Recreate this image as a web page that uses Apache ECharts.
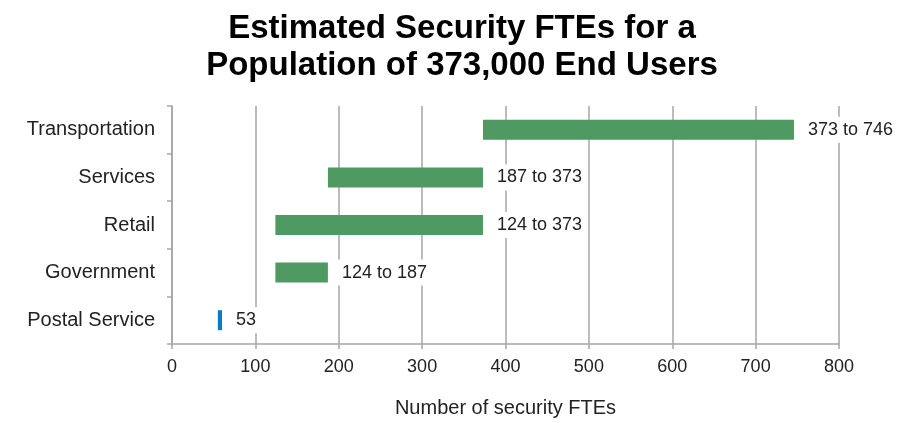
<!DOCTYPE html>
<html><head><meta charset="utf-8">
<script src="https://cdn.jsdelivr.net/npm/echarts@6/dist/echarts.min.js"></script>
<style>html,body{margin:0;padding:0;background:#fff}#c{width:897px;height:423px}</style>
</head><body><div id="c"></div>
<script>
const categories = ['Transportation', 'Services', 'Retail', 'Government', 'Postal Service'];
const lowValues = [373, 187, 124, 124, 55];
const highValues = [746, 373, 373, 187, 60];
const rangeLabels = ['373 to 746', '187 to 373', '124 to 373', '124 to 187', '53'];
const xTicks = [0, 100, 200, 300, 400, 500, 600, 700, 800];

const spans = highValues.map((h, i) => h - lowValues[i]);
const chart = echarts.init(document.getElementById('c'));
chart.setOption({
  animation: false,
  title: {
    text: 'Estimated Security FTEs for a\nPopulation of 373,000 End Users',
    left: 457, top: 5, textAlign: 'center',
    textStyle: { fontFamily: 'Liberation Sans', fontWeight: 'bold', fontSize: 33, lineHeight: 37, color: '#000' }
  },
  grid: { left: 172, right: 58, top: 106, bottom: 76 },
  xAxis: {
    type: 'value', min: xTicks[0], max: xTicks[xTicks.length - 1], interval: 100,
    name: 'Number of security FTEs', nameLocation: 'middle', nameGap: 54,
    nameTextStyle: { fontFamily: 'Liberation Sans', fontSize: 20, color: '#222' },
    axisLine: { show: true, lineStyle: { color: '#a6a6a6', width: 1.5 } },
    axisTick: { show: true, length: 5, lineStyle: { color: '#a6a6a6', width: 1.5 } },
    axisLabel: { fontFamily: 'Liberation Sans', fontSize: 18, color: '#222', margin: 14 },
    splitLine: { show: true, lineStyle: { color: '#a6a6a6', width: 1.5 } }
  },
  yAxis: {
    type: 'category', data: categories, inverse: true,
    axisLine: { show: true, lineStyle: { color: '#a6a6a6', width: 1.5 } },
    axisTick: { show: true, length: 5, lineStyle: { color: '#a6a6a6', width: 1.5 } },
    axisLabel: { fontFamily: 'Liberation Sans', fontSize: 20, color: '#222', margin: 17 },
    splitLine: { show: false }
  },
  series: [
    {
      type: 'bar', stack: 'r', data: lowValues, barWidth: 20,
      itemStyle: { color: 'transparent' }, silent: true
    },
    {
      type: 'bar', stack: 'r', data: spans, barWidth: 20,
      itemStyle: {
        color: p => categories[p.dataIndex] === 'Postal Service' ? '#0a7cc4' : '#4f9a62'
      },
      label: {
        show: true, position: 'right', distance: 10,
        formatter: p => rangeLabels[p.dataIndex],
        fontFamily: 'Liberation Sans', fontSize: 18, color: '#222',
        backgroundColor: '#fff', padding: [4, 4]
      }
    }
  ]
});
</script></body></html>
